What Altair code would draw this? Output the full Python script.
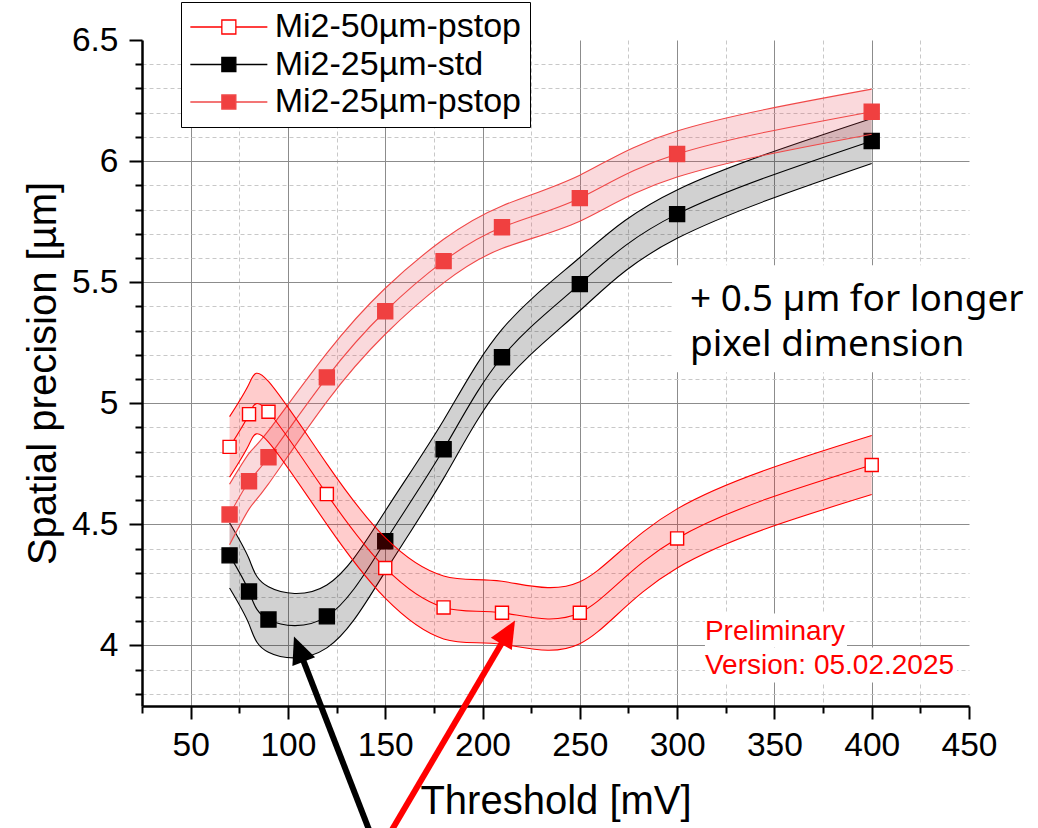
import math
import altair as alt
import pandas as pd

# ---- measured spatial precision vs. threshold ----
thresholds = [70, 80, 90, 120, 150, 180, 210, 250, 300, 400]

series_names = ["Mi2-50µm-pstop", "Mi2-25µm-std", "Mi2-25µm-pstop"]

prec_50_pstop = [4.82, 4.955, 4.965, 4.625, 4.32, 4.157, 4.135, 4.135, 4.442, 4.745]
band_50_pstop = [0.125, 0.125, 0.125, 0.125, 0.125, 0.13, 0.13, 0.128, 0.122, 0.122]

prec_25_std = [4.372, 4.223, 4.107, 4.12, 4.43, 4.81, 5.19, 5.492, 5.781, 6.083]
band_25_std = [0.135, 0.135, 0.135, 0.13, 0.125, 0.12, 0.115, 0.11, 0.10, 0.093]

prec_25_pstop = [4.541, 4.678, 4.777, 5.107, 5.38, 5.587, 5.727, 5.847, 6.029, 6.204]
band_25_pstop = [0.125, 0.115, 0.11, 0.10, 0.095, 0.09, 0.088, 0.095, 0.095, 0.093]

x_ticks = [50, 100, 150, 200, 250, 300, 350, 400, 450]
x_minor = [25, 75, 125, 175, 225, 275, 325, 375, 425]
y_ticks = [4.0, 4.5, 5.0, 5.5, 6.0, 6.5]

X_DOMAIN = [25, 450]
Y_DOMAIN = [3.75, 6.5]
W, H = 827, 666
CURVE = "natural"

series_values = {
    "Mi2-50µm-pstop": (prec_50_pstop, band_50_pstop),
    "Mi2-25µm-std": (prec_25_std, band_25_std),
    "Mi2-25µm-pstop": (prec_25_pstop, band_25_pstop),
}

styles = {
    "Mi2-50µm-pstop": dict(line="#ff0000", band="#ff0000", band_op=0.2,
                            fill="#ffffff", stroke="#ff0000", size=170),
    "Mi2-25µm-std": dict(line="#000000", band="#000000", band_op=0.18,
                          fill="#000000", stroke="#000000", size=225),
    "Mi2-25µm-pstop": dict(line="#f04848", band="#e84050", band_op=0.2,
                            fill="#f04040", stroke="#f04040", size=225),
}

rows = []
for name in series_names:
    vals, errs = series_values[name]
    for t, v, e in zip(thresholds, vals, errs):
        rows.append(dict(series=name, threshold=t, precision=v,
                         lo=round(v - e, 4), hi=round(v + e, 4)))
df = pd.DataFrame(rows)

xs = alt.Scale(domain=X_DOMAIN, nice=False, zero=False)
ys = alt.Scale(domain=Y_DOMAIN, nice=False, zero=False)

FONT = "Liberation Sans"

main_x_axis = alt.Axis(
    values=x_ticks, title="Threshold [mV]", orient="bottom",
    tickSize=13, tickWidth=2, tickColor="black",
    domainColor="black", domainWidth=2.5,
    labelFont=FONT, labelFontSize=33.5, labelColor="black", labelPadding=10,
    labelFlush=False, labelOverlap=False,
    titleFont=FONT, titleFontSize=40, titleFontWeight="normal", titleColor="black",
    titlePadding=20,
    grid=True, gridWidth=1,
    gridColor={"condition": {"test": "datum.value >= 450", "value": "transparent"},
               "value": "#8c8c8c"},
)
main_y_axis = alt.Axis(
    values=y_ticks, title="Spatial precision [µm]", orient="left", format="~g",
    tickSize=13, tickWidth=2, tickColor="black",
    domainColor="black", domainWidth=2.5,
    labelFont=FONT, labelFontSize=33.5, labelColor="black", labelPadding=11,
    labelFlush=False, labelOverlap=False,
    titleFont=FONT, titleFontSize=40, titleFontWeight="normal", titleColor="black",
    titlePadding=8,
    grid=True, gridWidth=1,
    gridColor={"condition": {"test": "datum.value >= 6.5", "value": "transparent"},
               "value": "#8c8c8c"},
)

y_minor = [round(3.8 + 0.1 * i, 1) for i in range(27)]
y_minor = [v for v in y_minor if abs(v * 2 - round(v * 2)) > 1e-6]

minor_x_axis = alt.Axis(values=x_minor, orient="bottom", labels=False, title=None,
                        domain=False, tickSize=7, tickWidth=2, tickColor="black",
                        grid=True, gridColor="#c8c8c8", gridDash=[4, 3], gridWidth=1)
minor_y_axis = alt.Axis(values=y_minor, orient="left", labels=False, title=None,
                        domain=False, tickSize=7, tickWidth=2, tickColor="black",
                        grid=True, gridColor="#c8c8c8", gridDash=[4, 3], gridWidth=1)

layers = []

# minor ticks + dashed grid
layers.append(
    alt.Chart(df).mark_point(opacity=0).encode(
        x=alt.X("threshold:Q", scale=xs, axis=minor_x_axis),
        y=alt.Y("precision:Q", scale=ys, axis=minor_y_axis),
    )
)

# major ticks + solid grid
layers.append(
    alt.Chart(df).mark_point(opacity=0).encode(
        x=alt.X("threshold:Q", scale=xs, axis=main_x_axis),
        y=alt.Y("precision:Q", scale=ys, axis=main_y_axis),
    )
)

# white backing boxes for the text notes
box_x = [297.4, 314.3, 314.3]
box_x2 = [490.0, 387.3, 443.8]
box_y = [5.128, 3.992, 3.847]
box_y2 = [5.570, 4.132, 3.992]
boxes = pd.DataFrame(dict(x=box_x, x2=box_x2, y=box_y, y2=box_y2))
layers.append(
    alt.Chart(boxes).mark_rect(color="white", opacity=1).encode(
        x=alt.X("x:Q", scale=xs, axis=None), x2="x2:Q",
        y=alt.Y("y:Q", scale=ys, axis=None), y2="y2:Q",
    )
)

# series: bands, band edges, smoothed curve and markers
draw_order = ["Mi2-25µm-std", "Mi2-25µm-pstop", "Mi2-50µm-pstop"]
for name in draw_order:
    st = styles[name]
    base = alt.Chart(df).transform_filter(alt.datum.series == name)
    x_enc = alt.X("threshold:Q", scale=xs, axis=None)
    layers.append(
        base.mark_area(interpolate=CURVE, color=st["band"], opacity=st["band_op"]).encode(
            x=x_enc, y=alt.Y("lo:Q", scale=ys, axis=None), y2="hi:Q")
    )
    for col in ["lo", "hi", "precision"]:
        layers.append(
            base.mark_line(interpolate=CURVE, color=st["line"], strokeWidth=1.1).encode(
                x=x_enc, y=alt.Y(f"{col}:Q", scale=ys, axis=None))
        )
    layers.append(
        base.mark_point(shape="square", filled=True, opacity=1, size=st["size"],
                        fill=st["fill"], stroke=st["stroke"], strokeWidth=1.4).encode(
            x=x_enc, y=alt.Y("precision:Q", scale=ys, axis=None))
    )

# legend: a line through a square marker; the path reaches past the unit box so
# that the legend rows stay compact while the drawn line stays long
SYM_D = 30          # nominal symbol diameter used by the legend layout
SYM_SW = 1.3
LINE_HALF = 38.5    # half length of the drawn legend line
SQ_HALF = 7         # half side of the legend square
LABEL_GAP = 6
k = SYM_D / 2
lh, sq = LINE_HALF / k, SQ_HALF / k
legend_path = (f"M{-lh:.3f},0H{-sq:.3f}M{sq:.3f},0H{lh:.3f}"
               f"M{-sq:.3f},{-sq:.3f}H{sq:.3f}V{sq:.3f}H{-sq:.3f}Z")
sym_offset = LINE_HALF - (SYM_D + SYM_SW) / 2
legend_spec = alt.Legend(
    title=None, orient="none", legendX=39, legendY=-38,
    padding=8, strokeColor="black", fillColor="white",
    labelFont=FONT, labelFontSize=34, labelColor="black",
    labelOffset=2 * LINE_HALF + LABEL_GAP - (SYM_D + SYM_SW) - sym_offset,
    symbolOffset=sym_offset,
    labelLimit=0, rowPadding=3.5, symbolSize=SYM_D ** 2, symbolStrokeWidth=SYM_SW,
)
fill_range = [styles[n]["fill"] for n in series_names]
stroke_range = [styles[n]["line"] for n in series_names]
layers.append(
    alt.Chart(df).transform_filter("datum.threshold < 0").mark_point(
        filled=True, opacity=1, size=SYM_D ** 2, strokeWidth=SYM_SW).encode(
        x=alt.X("threshold:Q", scale=xs, axis=None),
        y=alt.Y("precision:Q", scale=ys, axis=None),
        fill=alt.Fill("series:N", scale=alt.Scale(domain=series_names, range=fill_range),
                      legend=legend_spec),
        stroke=alt.Stroke("series:N", scale=alt.Scale(domain=series_names, range=stroke_range),
                          legend=legend_spec),
        shape=alt.Shape("series:N", scale=alt.Scale(domain=series_names,
                                                     range=[legend_path] * 3),
                        legend=legend_spec),
    )
)

# text notes
note_lines = ["+ 0.5 µm for longer", "pixel dimension"]
note_x = [306.6]
note_y = [5.379]
notes = pd.DataFrame(dict(x=note_x, y=note_y, text=["\n".join(note_lines)]))
layers.append(
    alt.Chart(notes).mark_text(align="left", baseline="alphabetic", font="Noto Sans",
                               fontSize=37, color="black", lineBreak="\n",
                               lineHeight=45).encode(
        x=alt.X("x:Q", scale=xs, axis=None), y=alt.Y("y:Q", scale=ys, axis=None),
        text="text:N")
)
stamp_lines = ["Preliminary", "Version: 05.02.2025"]
stamp_x = [314.3]
stamp_y = [4.023]
stamp = pd.DataFrame(dict(x=stamp_x, y=stamp_y, text=["\n".join(stamp_lines)]))
layers.append(
    alt.Chart(stamp).mark_text(align="left", baseline="alphabetic", font=FONT,
                               fontSize=28, color="#ff0000", lineBreak="\n",
                               lineHeight=34).encode(
        x=alt.X("x:Q", scale=xs, axis=None), y=alt.Y("y:Q", scale=ys, axis=None),
        text="text:N")
)

# arrows pointing at the curve minima
arrow_color = ["black", "#ff0000"]
arrow_tail_x = [143.7, 150.4]
arrow_tail_y = [3.197, 3.197]
arrow_tip_x = [103.1, 216.7]
arrow_tip_y = [4.037, 4.103]
HEAD_LEN = 27


def to_px(x, y):
    return ((x - X_DOMAIN[0]) / (X_DOMAIN[1] - X_DOMAIN[0]) * W,
            (Y_DOMAIN[1] - y) / (Y_DOMAIN[1] - Y_DOMAIN[0]) * H)


def from_px(px, py):
    return (X_DOMAIN[0] + px / W * (X_DOMAIN[1] - X_DOMAIN[0]),
            Y_DOMAIN[1] - py / H * (Y_DOMAIN[1] - Y_DOMAIN[0]))


head_path = "M0,0L-0.45,1L0.45,1Z"
for col, tx, ty, hx, hy in zip(arrow_color, arrow_tail_x, arrow_tail_y, arrow_tip_x, arrow_tip_y):
    tpx, tpy = to_px(tx, ty)
    hpx, hpy = to_px(hx, hy)
    dx, dy = hpx - tpx, hpy - tpy
    length = math.hypot(dx, dy)
    ux, uy = dx / length, dy / length
    ex, ey = from_px(hpx - ux * HEAD_LEN * 0.75, hpy - uy * HEAD_LEN * 0.75)
    angle = math.degrees(math.atan2(dx, -dy)) % 360
    shaft = pd.DataFrame(dict(x=[tx], y=[ty], x2=[ex], y2=[ey]))
    tip = pd.DataFrame(dict(x=[hx], y=[hy]))
    layers.append(
        alt.Chart(shaft).mark_rule(color=col, strokeWidth=6).encode(
            x=alt.X("x:Q", scale=xs, axis=None), y=alt.Y("y:Q", scale=ys, axis=None),
            x2="x2:Q", y2="y2:Q")
    )
    layers.append(
        alt.Chart(tip).mark_point(shape=head_path, filled=True, opacity=1, color=col,
                                  strokeWidth=0, size=(2 * HEAD_LEN) ** 2,
                                  angle=round(angle, 2)).encode(
            x=alt.X("x:Q", scale=xs, axis=None), y=alt.Y("y:Q", scale=ys, axis=None))
    )

chart = alt.layer(*layers).resolve_axis(x="independent", y="independent").properties(
    width=W, height=H,
    padding={"left": 142, "top": 40, "right": 69, "bottom": 122},
    autosize=alt.AutoSizeParams(type="none"),
    background="white",
).configure_view(stroke=None)

chart.save("out.html", embed_options={"renderer": "svg", "actions": False})
